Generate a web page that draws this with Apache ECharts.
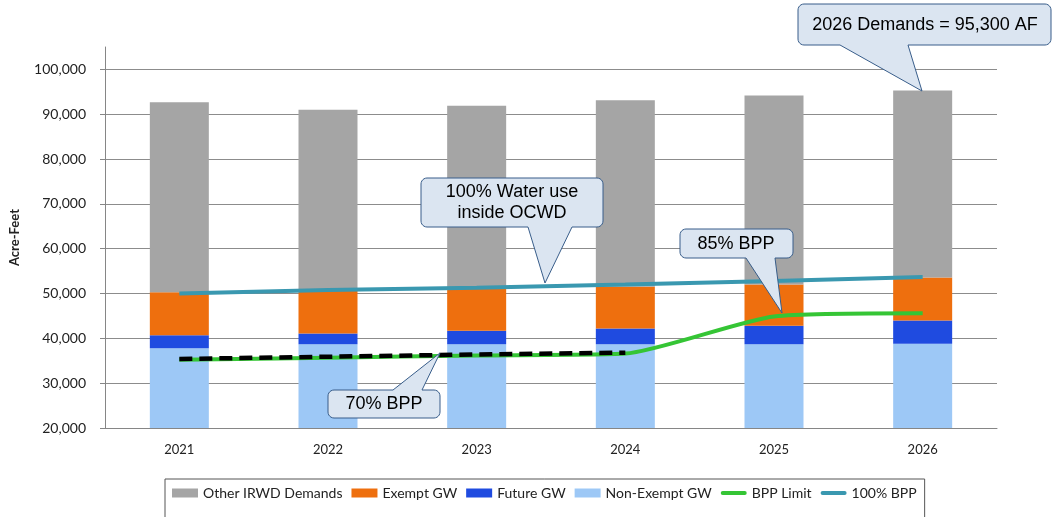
<!DOCTYPE html>
<html>
<head>
<meta charset="utf-8">
<script src="https://cdn.jsdelivr.net/npm/echarts@6/dist/echarts.min.js"></script>
<style>
  html, body { margin: 0; padding: 0; background: #fff; }
  #main { width: 1054px; height: 517px; }
</style>
</head>
<body>
<div id="main"></div>
<script>
// data (acre-feet)
var years = ['2021', '2022', '2023', '2024', '2025', '2026'];
var nonExemptGW = [37800, 38700, 38700, 38700, 38700, 38800];
var futureGW = [2900, 2400, 3000, 3500, 4100, 5200];
var exemptGW = [9600, 9800, 9500, 9300, 9200, 9600];
var otherIRWD = [42400, 40100, 40700, 41600, 42200, 41700];
var bppLimit = [35200, 35700, 36200, 36600, 44900, 45600];
var bpp70 = [35400, 35900, 36400, 36800, null, null];
var bpp100 = [50000, 50800, 51300, 52000, 52800, 53700];

var font = 'Lato, "Open Sans", sans-serif';
var calloutFont = '"Liberation Sans", Arial, sans-serif';
var lineIcon = 'path://M2,0 H24 A2,2 0 0 1 24,4 H2 A2,2 0 0 1 2,0 Z';

// rounded callout box with a pointer on top or bottom edge
function callout(x0, y0, x1, y1, side, a, b, tx, ty) {
  var r = 6, pts = [];
  function arc(cx, cy, from, to) {
    for (var i = 0; i <= 6; i++) {
      var t = (from + (to - from) * i / 6) * Math.PI / 180;
      pts.push([cx + r * Math.cos(t), cy + r * Math.sin(t)]);
    }
  }
  arc(x0 + r, y0 + r, 180, 270);
  if (side === 'top') { pts.push([a, y0], [tx, ty], [b, y0]); }
  arc(x1 - r, y0 + r, 270, 360);
  arc(x1 - r, y1 - r, 0, 90);
  if (side === 'bottom') { pts.push([b, y1], [tx, ty], [a, y1]); }
  arc(x0 + r, y1 - r, 90, 180);
  return {
    type: 'polygon',
    shape: { points: pts },
    style: { fill: '#dbe5f1', stroke: '#385d8a', lineWidth: 1 },
    z: 100
  };
}
function label(x, y, txt) {
  return {
    type: 'text', x: x, y: y, z: 101,
    style: {
      text: txt, fill: '#000', fontSize: 18, fontFamily: calloutFont,
      align: 'center', verticalAlign: 'middle', textAlign: 'center', textVerticalAlign: 'middle',
      lineHeight: 21
    }
  };
}

var chart = echarts.init(document.getElementById('main'));
chart.setOption({
  animation: false,
  grid: { left: 103, right: 57, top: 47, bottom: 89 },
  legend: {
    left: 165, top: 479,
    padding: [7, 8, 20, 7],
    itemGap: 9,
    itemWidth: 26, itemHeight: 9,
    borderColor: '#555', borderWidth: 1,
    textStyle: { fontFamily: font, fontSize: 14, color: '#222' },
    data: [
      { name: 'Other IRWD Demands', icon: 'rect' },
      { name: 'Exempt GW', icon: 'rect' },
      { name: 'Future GW', icon: 'rect' },
      { name: 'Non-Exempt GW', icon: 'rect' },
      { name: 'BPP Limit', icon: lineIcon },
      { name: '100% BPP', icon: lineIcon }
    ]
  },
  xAxis: {
    type: 'category',
    data: years,
    axisLine: { lineStyle: { color: '#868686' } },
    axisTick: { length: 5, lineStyle: { color: '#868686' } },
    axisLabel: { fontFamily: font, fontSize: 13, color: '#222', margin: 15 }
  },
  yAxis: {
    type: 'value',
    min: 20000, max: 105000, interval: 10000,
    name: 'Acre-Feet',
    nameLocation: 'middle', nameRotate: 90, nameGap: 84,
    nameTextStyle: { fontFamily: font, fontSize: 13, fontWeight: 'bold', color: '#222' },
    axisLine: { show: true, lineStyle: { color: '#868686' } },
    axisTick: { show: true, length: 5, lineStyle: { color: '#868686' } },
    axisLabel: {
      fontFamily: font, fontSize: 14, color: '#222', margin: 19, showMaxLabel: false,
      formatter: function (v) { return v.toLocaleString('en-US'); }
    },
    splitLine: { show: true, showMaxLine: false, lineStyle: { color: '#8c8c8c' } }
  },
  series: [
    { name: 'Non-Exempt GW', type: 'bar', stack: 'd', barWidth: 59, data: nonExemptGW, itemStyle: { color: '#9dc8f6' } },
    { name: 'Future GW', type: 'bar', stack: 'd', data: futureGW, itemStyle: { color: '#1f4be0' } },
    { name: 'Exempt GW', type: 'bar', stack: 'd', data: exemptGW, itemStyle: { color: '#ee6f0e' } },
    { name: 'Other IRWD Demands', type: 'bar', stack: 'd', data: otherIRWD, itemStyle: { color: '#a5a5a5' } },
    {
      name: 'BPP Limit', type: 'line', data: bppLimit, symbol: 'none', smooth: 0.2, z: 5,
      lineStyle: { color: '#35c535', width: 4 }, itemStyle: { color: '#35c535' }
    },
    {
      name: '70% BPP', type: 'line', data: bpp70, symbol: 'none', z: 6,
      lineStyle: { color: '#000', width: 4.5, type: [13, 7] }
    },
    {
      name: '100% BPP', type: 'line', data: bpp100, symbol: 'none', z: 5,
      lineStyle: { color: '#3a98b0', width: 4 }, itemStyle: { color: '#3a98b0' }
    }
  ],
  graphic: [
    callout(421, 178, 603, 227, 'bottom', 528, 572, 545, 283),
    label(512, 203, '100% Water use\ninside OCWD'),
    callout(328, 390, 440, 418, 'top', 393, 422, 440, 353),
    label(384, 404, '70% BPP'),
    callout(680, 229, 793, 258, 'bottom', 746, 775, 782, 313),
    label(736, 244, '85% BPP'),
    callout(798, 4, 1051, 45, 'bottom', 840, 908, 922, 91),
    label(925, 25, '2026 Demands = 95,300 AF')
  ]
});
</script>
</body>
</html>
